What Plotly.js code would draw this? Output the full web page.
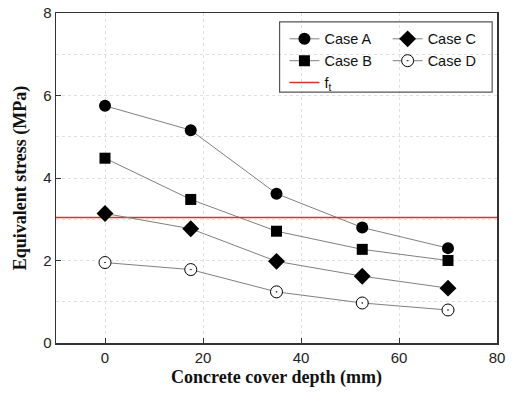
<!DOCTYPE html>
<html>
<head>
<meta charset="utf-8">
<script src="https://cdn.plot.ly/plotly-3.0.1.min.js"></script>
<style>html,body{margin:0;padding:0;background:#fff;}#chart{width:512px;height:395px;}</style>
</head>
<body>
<div id="chart"></div>
<script>
const depth = [0, 17.5, 35, 52.5, 70];
const caseA = [5.75, 5.16, 3.62, 2.80, 2.30];
const caseB = [4.48, 3.48, 2.71, 2.27, 2.00];
const caseC = [3.14, 2.77, 1.98, 1.62, 1.33];
const caseD = [1.95, 1.78, 1.24, 0.97, 0.80];
const ftValue = 3.04;
const ftX = [-10, 80];

const lineStyle = {color: '#808080', width: 1};
const traces = [
  {x: depth, y: caseA, name: 'Case A', mode: 'lines+markers', line: lineStyle,
   marker: {symbol: 'circle', size: 12, color: '#000'}, legend: 'legend'},
  {x: depth, y: caseB, name: 'Case B', mode: 'lines+markers', line: lineStyle,
   marker: {symbol: 'square', size: 11, color: '#000'}, legend: 'legend'},
  {x: ftX, y: [ftValue, ftValue], name: 'f<sub>t</sub>', mode: 'lines',
   line: {color: '#d9302c', width: 1.5}, legend: 'legend'},
  {x: depth, y: caseC, name: 'Case C', mode: 'lines+markers', line: lineStyle,
   marker: {symbol: 'diamond', size: 13, color: '#000'}, legend: 'legend2'},
  {x: depth, y: caseD, name: 'Case D', mode: 'lines+markers', line: lineStyle,
   marker: {symbol: 'circle-dot', size: 12, color: '#fff', line: {color: '#000', width: 1}}, legend: 'legend2'}
];

const axisCommon = {
  showline: true, mirror: true, linecolor: '#333', linewidth: 1.5,
  ticks: 'inside', ticklen: 5, tickcolor: '#333',
  gridcolor: '#e0e0e0', griddash: 'dot', gridwidth: 1,
  zeroline: false,
  tickfont: {family: 'Liberation Sans, Arial, sans-serif', size: 15, color: '#222'}
};

const legendFont = {family: 'Liberation Sans, Arial, sans-serif', size: 14.5, color: '#111'};

const layout = {
  width: 512, height: 395,
  margin: {l: 56, r: 15, t: 13, b: 52},
  paper_bgcolor: '#fff', plot_bgcolor: '#fff',
  showlegend: true,
  xaxis: Object.assign({}, axisCommon, {
    range: [-10, 80], tickvals: [0, 20, 40, 60, 80],
    title: {text: 'Concrete cover depth (mm)', standoff: 6,
      font: {family: 'Liberation Serif, Times New Roman, serif', size: 18, color: '#111', weight: 'bold'}}
  }),
  yaxis: Object.assign({}, axisCommon, {
    range: [0, 8], tickvals: [0, 2, 4, 6, 8],
    minor: {dtick: 1, showgrid: true, gridcolor: '#e0e0e0', griddash: 'dot', ticks: ''},
    title: {text: 'Equivalent stress (MPa)', standoff: 12,
      font: {family: 'Liberation Serif, Times New Roman, serif', size: 18, color: '#111', weight: 'bold'}}
  }),
  legend: {
    x: 0.518, y: 0.97, xanchor: 'left', yanchor: 'top',
    bgcolor: 'rgba(0,0,0,0)', borderwidth: 0,
    font: legendFont, tracegroupgap: 0, itemwidth: 30
  },
  legend2: {
    x: 0.752, y: 0.97, xanchor: 'left', yanchor: 'top',
    bgcolor: 'rgba(0,0,0,0)', borderwidth: 0,
    font: legendFont, tracegroupgap: 0, itemwidth: 30
  },
  shapes: [{
    type: 'rect', xref: 'paper', yref: 'paper',
    x0: 0.507, x1: 0.989, y0: 0.76, y1: 0.973,
    line: {color: '#555', width: 1.2}, fillcolor: 'rgba(0,0,0,0)', layer: 'above'
  }]
};

Plotly.newPlot('chart', traces, layout, {displayModeBar: false, staticPlot: true});
</script>
</body>
</html>
